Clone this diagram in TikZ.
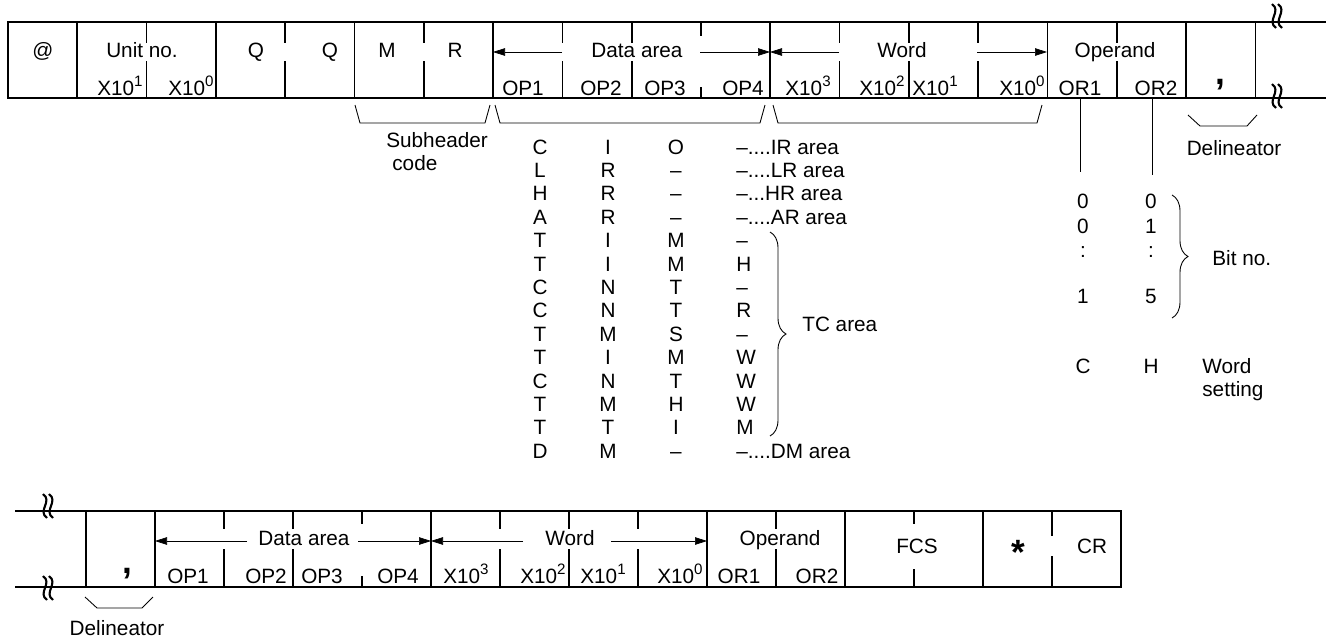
\documentclass[tikz,border=0pt]{standalone}
\usepackage{fontspec}
\setmainfont{Liberation Sans}
\usetikzlibrary{arrows.meta,decorations.pathreplacing}
\newcommand\pw[1]{\raisebox{0.75ex}{\fontsize{8.6}{9}\selectfont #1}}

\begin{document}
\begin{tikzpicture}[x=0.2mm, y=-0.2mm, >={Triangle[length=2.4mm,width=1.5mm]},
  font=\fontsize{11.8}{14}\selectfont,
  frame/.style={line width=1pt, line cap=rect},
  fine/.style={line width=0.5pt},
  brk/.style={line width=1.2pt},
  lbl/.style={inner sep=0pt, anchor=base},
  lblw/.style={lbl, anchor=base west},
  lble/.style={lbl, anchor=base east},
  heavy/.style={inner sep=0pt, anchor=north, font=\fontsize{20}{20}\selectfont\bfseries},
  curly/.style={fine, decorate, decoration={brace, amplitude=3.2mm}}]
\useasboundingbox (0,0) rectangle (1326,640);

% first line of the frame
\draw[frame] (8,22) -- (1326,22) (8,98) -- (1326,98);
\foreach \k in {0,1,3,5,7,11,15,17,18}
  \draw[frame] ({8+69.3*\k},22) -- ({8+69.3*\k},98);
\foreach \k in {2,4,6,8,9,12,13,14,16}
  \draw[frame] ({8+69.3*\k},22) -- ({8+69.3*\k},42) ({8+69.3*\k},62) -- ({8+69.3*\k},98);
\draw[frame] (701,22) -- (701,35) (701,88) -- (701,98);

\node[lbl] (at)   at (43,57)  {@};
\node[lbl] (unit) at (142,57) {Unit no.};
\node[lble] (un1) at (143,95) {X10\pw{1}};
\node[lble] (un0) at (214,95) {X10\pw{0}};
\node[lbl] (q1)   at (256,57) {Q};
\node[lbl] (q2)   at (330,57) {Q};
\node[lbl] (m)    at (387,57) {M};
\node[lbl] (r)    at (455,57) {R};
\node[lbl] (datT) at (637,57) {Data area};
\draw[->] (562,52) -- (493,52);
\draw[->] (700,52) -- (770,52);
\node[lbl] (op1T) at (523,95) {OP1};
\node[lbl] (op2T) at (601,95) {OP2};
\node[lbl] (op3T) at (665,95) {OP3};
\node[lbl] (op4T) at (743,95) {OP4};
\node[lbl] (wrdT) at (902,57) {Word};
\draw[->] (839,52) -- (770,52);
\node[lbl] (wd3T) at (808,95) {X10\pw{3}};
\node[lble] (wd2T) at (905,95) {X10\pw{2}};
\node[lblw] (wd1T) at (912,95) {X10\pw{1}};
\node[lble] (wd0T) at (1045,95) {X10\pw{0}};
\draw[->] (977,52) -- (1047,52);
\node[lbl] (oprT) at (1115,57) {Operand};
\node[lbl] (or1T) at (1080,95) {OR1};
\node[lbl] (or2T) at (1156,95) {OR2};
\node[heavy] (cmT) at (1220,79) {,};

\foreach \bx/\by in {1274/16, 1274/96, 45/506, 45/588}
  \foreach \o in {0,6}
    \draw[brk] ({\bx+\o-2},{\by-12}) .. controls ({\bx+\o+8},{\by-5}) and ({\bx+\o-8},{\by+5}) .. ({\bx+\o+2},{\by+12});

% notes under the first line
\draw[fine] (355,105) -- (360,123) -- (485,123) -- (490,105);
\draw[fine] (495,105) -- (500,123) -- (760,123) -- (765,105);
\draw[fine] (773,105) -- (778,123) -- (1037,123) -- (1042,105);
\draw[fine] (1188,115) -- (1200,126) -- (1247,126) -- (1257,115);
\draw[fine] (1080,98) -- (1080,172);
\draw[fine] (1152,98) -- (1152,175);
\node[lblw] (sub)  at (386,147) {Subheader};
\node[lblw] (code) at (392,170) {code};
\node[lbl] (delT)  at (1234,155) {Delineator};

\foreach \a/\b/\c/\d [count=\i from 0] in {C/I/O/{–....IR area}, L/R/–/{–....LR area},
    H/R/–/{–...HR area}, A/R/–/{–....AR area}, T/I/M/–, T/I/M/H, C/N/T/–, C/N/T/R,
    T/M/S/–, T/I/M/W, C/N/T/W, T/M/H/W, T/T/I/M, D/M/–/{–....DM area}} {
  \node[lbl] (ca\i) at (540,{154+23.4*\i}) {\a};
  \node[lbl] (cb\i) at (608,{154+23.4*\i}) {\b};
  \node[lbl] (cc\i) at (676,{154+23.4*\i}) {\c};
  \node[lblw] (cd\i) at (736,{154+23.4*\i}) {\d};
}
\draw[curly] (770,232) -- (770,436);
\node[lblw] (tc) at (802,331) {TC area};

\foreach \p/\q/\yy [count=\i] in {0/0/208, 0/1/233, :/:/257, 1/5/303, C/H/373} {
  \node[lbl] (ba\i) at (1083,\yy) {\p};
  \node[lbl] (bb\i) at (1151,\yy) {\q};
}
\draw[curly] (1172,195) -- (1172,318);
\node[lblw] (bit)  at (1212,265) {Bit no.};
\node[lblw] (wset) at (1202,373) {Word};
\node[lblw] (wst2) at (1202,396) {setting};

% second line of the frame
\draw[frame] (16,511) -- (1121,511) (16,587) -- (1121,587);
\foreach \k in {0,1,5,9,11,13,15}
  \draw[frame] ({86+69*\k},511) -- ({86+69*\k},587);
\foreach \k in {2,3,6,7,8,10}
  \draw[frame] ({86+69*\k},511) -- ({86+69*\k},528) ({86+69*\k},550) -- ({86+69*\k},587);
\draw[frame] (362,511) -- (362,523) (362,577) -- (362,587);
\draw[frame] (914,511) -- (914,523) (914,570) -- (914,587);
\draw[frame] (1052,511) -- (1052,535) (1052,557) -- (1052,587);

\node[heavy] (cmB) at (127,568) {,};
\node[lbl] (datB) at (304,545) {Data area};
\draw[->] (247,541) -- (155,541);
\draw[->] (358,541) -- (431,541);
\node[lbl] (op1B) at (188,583) {OP1};
\node[lbl] (op2B) at (266,583) {OP2};
\node[lbl] (op3B) at (322,583) {OP3};
\node[lbl] (op4B) at (398,583) {OP4};
\node[lbl] (wrdB) at (570,545) {Word};
\draw[->] (523,541) -- (431,541);
\draw[->] (611,541) -- (707,541);
\node[lbl] (wd3B) at (466,583) {X10\pw{3}};
\node[lble] (wd2B) at (566,583) {X10\pw{2}};
\node[lblw] (wd1B) at (580,583) {X10\pw{1}};
\node[lble] (wd0B) at (703,583) {X10\pw{0}};
\node[lbl] (oprB) at (780,545) {Operand};
\node[lbl] (or1B) at (739,583) {OR1};
\node[lbl] (or2B) at (817,583) {OR2};
\node[lbl] (fcs)  at (917,553) {FCS};
\node[heavy] (ast) at (1018,540) {*};
\node[lbl] (cr)   at (1092,553) {CR};

\draw[fine] (85,597) -- (97,608) -- (142,608) -- (153,597);
\node[lbl] (delB) at (117,635) {Delineator};
\end{tikzpicture}
\end{document}
